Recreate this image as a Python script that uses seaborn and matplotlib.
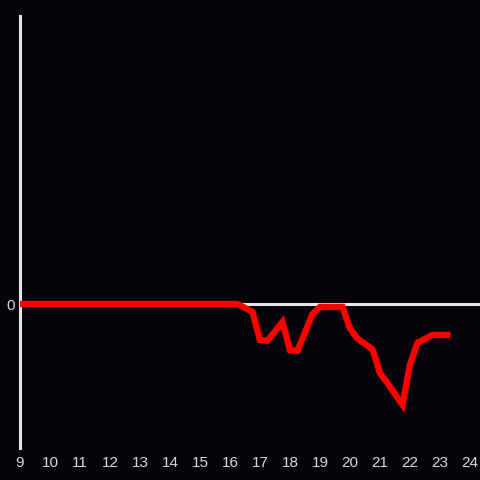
#!/usr/bin/env python3

import pandas as pd
import matplotlib.pyplot as plt
import seaborn as sns


# hour of day and value (line nodes)
hours = [9.0, 16.25, 16.75, 17.0, 17.25, 17.75, 18.0, 18.25, 18.75, 19.0, 19.75,
         20.0, 20.25, 20.75, 21.0, 21.25, 21.75, 22.0, 22.25, 22.75, 23.35]
values = [0.0, 0.0, -0.055, -0.25, -0.255, -0.125, -0.32, -0.325, -0.07, -0.02, -0.02,
          -0.17, -0.24, -0.315, -0.48, -0.55, -0.70, -0.42, -0.27, -0.215, -0.215]
x_ticks = list(range(9, 25))
y_ticks = [0]

data = pd.DataFrame({"hour": hours, "value": values})

bg = "#060409"
fg = "#d8d8d8"

sns.set_theme(style="dark", rc={
    "figure.facecolor": bg,
    "axes.facecolor": bg,
    "axes.edgecolor": "#e6e6e6",
    "xtick.color": fg,
    "ytick.color": fg,
    "text.color": fg,
})
plt.rcParams["font.family"] = ["Liberation Sans", "DejaVu Sans"]

fig = plt.figure(figsize=(4.8, 4.8), dpi=100)
ax = fig.add_axes([20 / 480, 32 / 480, 460 / 480, 432 / 480])

ax.axhline(0, color="#e6e6e6", linewidth=2.2, zorder=1)
sns.lineplot(data=data, x="hour", y="value", color="#ff0000", linewidth=4.6,
             solid_joinstyle="miter", solid_capstyle="butt", ax=ax, zorder=3)

ax.set_xlim(9, 9 + 460 / 30)
ax.set_ylim(-1, 2)
ax.set_xticks(x_ticks)
ax.set_yticks(y_ticks)
ax.tick_params(axis="both", length=0, labelsize=11, pad=4)
ax.tick_params(axis="x", pad=6)
ax.set_xlabel("")
ax.set_ylabel("")
ax.grid(False)

for side in ["top", "right", "bottom"]:
    ax.spines[side].set_visible(False)
ax.spines["left"].set_linewidth(2.2)

plt.savefig("out.png", dpi=100, facecolor=bg)
plt.close()
